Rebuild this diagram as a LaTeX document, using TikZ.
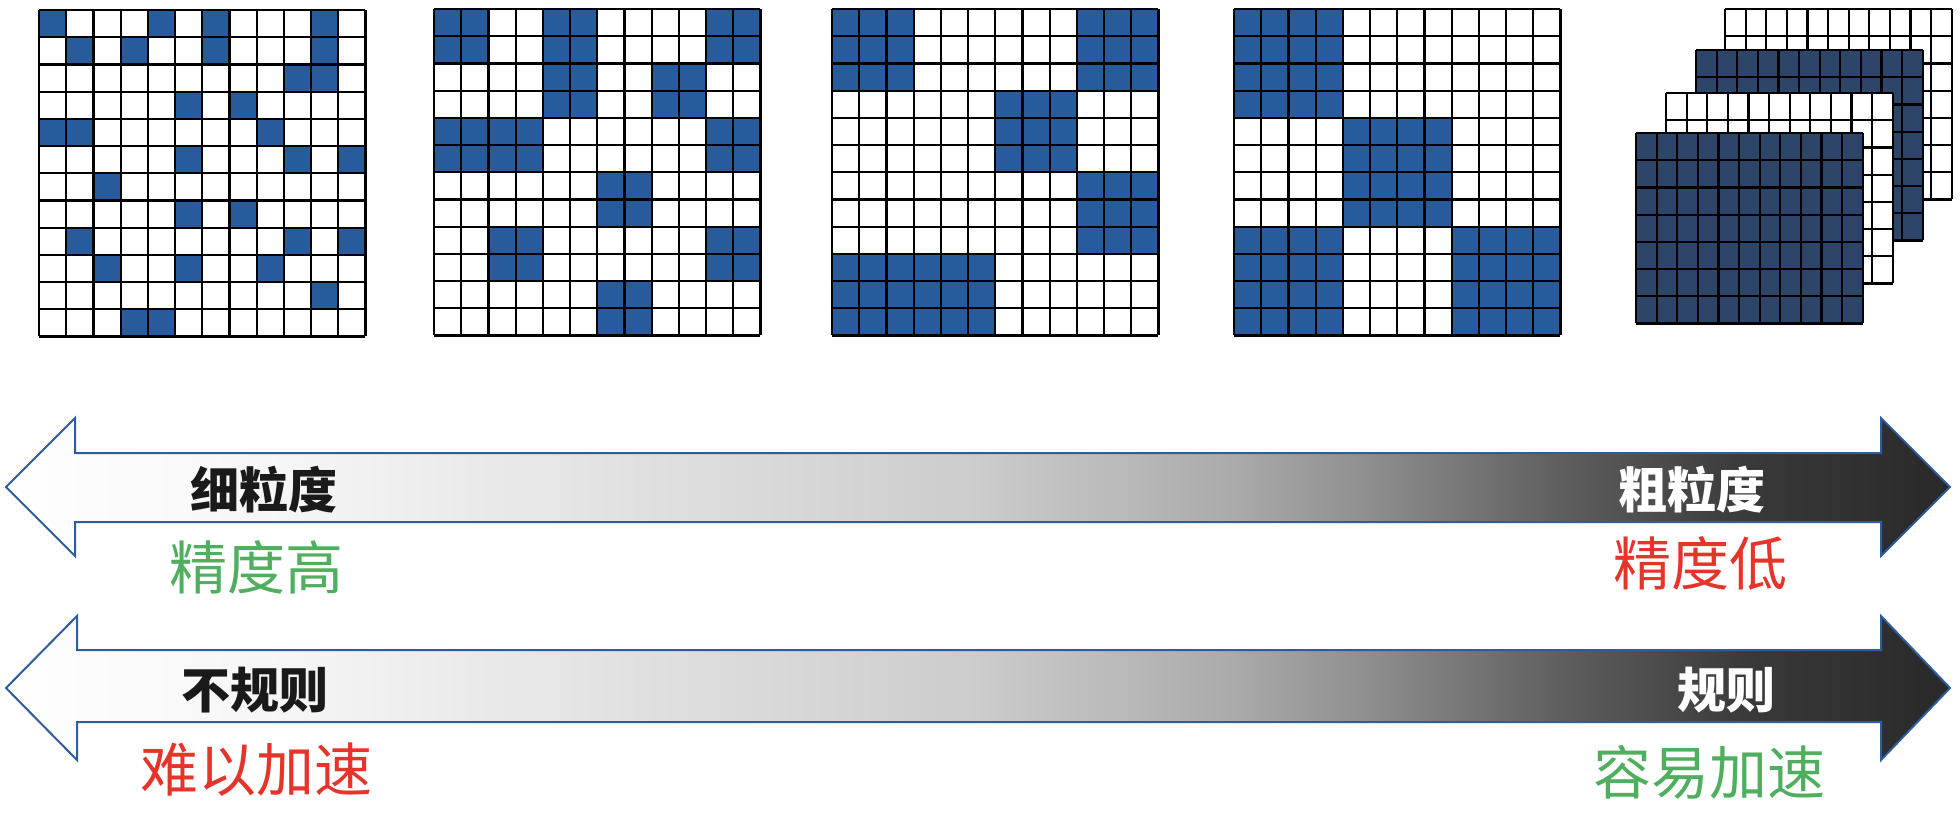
\documentclass[tikz,border=0pt]{standalone}
\usepackage{fontspec}
\newfontfamily\cjk{Noto Sans CJK SC}
\definecolor{cellblue}{HTML}{275B9B}
\definecolor{navy}{HTML}{2C4569}
\definecolor{arrowblue}{HTML}{2E5C9E}
\definecolor{txtgreen}{HTML}{4FAF5E}
\definecolor{txtred}{HTML}{E5352A}
\definecolor{txtblack}{HTML}{1A1A1A}
\pgfdeclarehorizontalshading{arrowshade}{100bp}{color(0bp)=(white); color(25bp)=(white); color(32.5bp)=(black!4); color(50bp)=(black!20); color(56.5bp)=(black!33); color(60bp)=(black!44); color(65bp)=(black!63); color(70bp)=(black!78); color(75bp)=(black!84); color(100bp)=(black!84)}
\tikzset{
  gridline/.style={line width=1.1pt, draw=black},
  arrowshape/.style={draw=arrowblue, line width=1pt, shading=arrowshade},
  boldlabel/.style={font=\cjk\bfseries\fontsize{24.5pt}{26pt}\selectfont, inner sep=0pt},
  plainlabel/.style={font=\cjk\fontsize{29pt}{31pt}\selectfont, inner sep=0pt},
}
\newcommand{\cellgrid}[3]{%
  \begin{scope}[shift={(#1,#2)}]
    \foreach \r/\c in {#3} { \fill[cellblue] (\c*27.2,\r*27.2) rectangle ++(27.2,27.2); }
    \foreach \i in {0,...,12} {
      \draw[gridline] (\i*27.2,0) -- (\i*27.2,326.4);
      \draw[gridline] (0,\i*27.2) -- (326.4,\i*27.2);
    }
  \end{scope}}
\newcommand{\layer}[3]{%
  \begin{scope}[shift={(#1,#2)}]
    \fill[#3] (0,0) rectangle (226.6,190.4);
    \foreach \i in {0,...,11} { \draw[gridline] (\i*20.6,0) -- (\i*20.6,190.4); }
    \foreach \j in {0,...,7} { \draw[gridline] (0,\j*27.2) -- (226.6,\j*27.2); }
  \end{scope}}
\begin{document}
\begin{tikzpicture}[x=0.5pt,y=-0.5pt]
\useasboundingbox (0,0) rectangle (1960,820);
% grid 1
\cellgrid{39}{10}{0/0,0/4,0/6,0/10, 1/1,1/3,1/6,1/10, 2/9,2/10, 3/5,3/7, 4/0,4/1,4/8, 5/5,5/9,5/11, 6/2, 7/5,7/7, 8/1,8/9,8/11, 9/2,9/5,9/8, 10/10, 11/3,11/4}
% grid 2
\cellgrid{434}{9}{0/0,0/1,0/4,0/5,0/10,0/11, 1/0,1/1,1/4,1/5,1/10,1/11, 2/4,2/5,2/8,2/9, 3/4,3/5,3/8,3/9, 4/0,4/1,4/2,4/3,4/10,4/11, 5/0,5/1,5/2,5/3,5/10,5/11, 6/6,6/7, 7/6,7/7, 8/2,8/3,8/10,8/11, 9/2,9/3,9/10,9/11, 10/6,10/7, 11/6,11/7}
% grid 3
\cellgrid{832}{9}{0/0,0/1,0/2,0/9,0/10,0/11, 1/0,1/1,1/2,1/9,1/10,1/11, 2/0,2/1,2/2,2/9,2/10,2/11, 3/6,3/7,3/8, 4/6,4/7,4/8, 5/6,5/7,5/8, 6/9,6/10,6/11, 7/9,7/10,7/11, 8/9,8/10,8/11, 9/0,9/1,9/2,9/3,9/4,9/5, 10/0,10/1,10/2,10/3,10/4,10/5, 11/0,11/1,11/2,11/3,11/4,11/5}
% grid 4
\cellgrid{1234}{9}{0/0,0/1,0/2,0/3, 1/0,1/1,1/2,1/3, 2/0,2/1,2/2,2/3, 3/0,3/1,3/2,3/3, 4/4,4/5,4/6,4/7, 5/4,5/5,5/6,5/7, 6/4,6/5,6/6,6/7, 7/4,7/5,7/6,7/7, 8/0,8/1,8/2,8/3,8/8,8/9,8/10,8/11, 9/0,9/1,9/2,9/3,9/8,9/9,9/10,9/11, 10/0,10/1,10/2,10/3,10/8,10/9,10/10,10/11, 11/0,11/1,11/2,11/3,11/8,11/9,11/10,11/11}
% stacked layers
\layer{1725}{9}{white}
\layer{1696}{50}{navy}
\layer{1666}{93}{white}
\layer{1636}{133}{navy}
% arrows
\shadedraw[arrowshape] (6,487) -- (75,418) -- (75,453) -- (1881,453) -- (1881,418) -- (1950,487) -- (1881,556) -- (1881,522) -- (75,522) -- (75,556) -- cycle;
\shadedraw[arrowshape] (6,688) -- (77,616) -- (77,650) -- (1881,650) -- (1881,616) -- (1950,688) -- (1881,760) -- (1881,722) -- (77,722) -- (77,760) -- cycle;
% labels
\node[boldlabel, text=txtblack] (fine) at (264,490) {细粒度};
\node[plainlabel, text=txtgreen] (hiacc) at (256,567) {精度高};
\node[boldlabel, text=white] (coarse) at (1692,490) {粗粒度};
\node[plainlabel, text=txtred] (loacc) at (1700,563) {精度低};
\node[boldlabel, text=txtblack] (irreg) at (255,690) {不规则};
\node[plainlabel, text=txtred] (hard) at (256,770) {难以加速};
\node[boldlabel, text=white] (reg) at (1726,690) {规则};
\node[plainlabel, text=txtgreen] (easy) at (1709,772) {容易加速};
\end{tikzpicture}
\end{document}
